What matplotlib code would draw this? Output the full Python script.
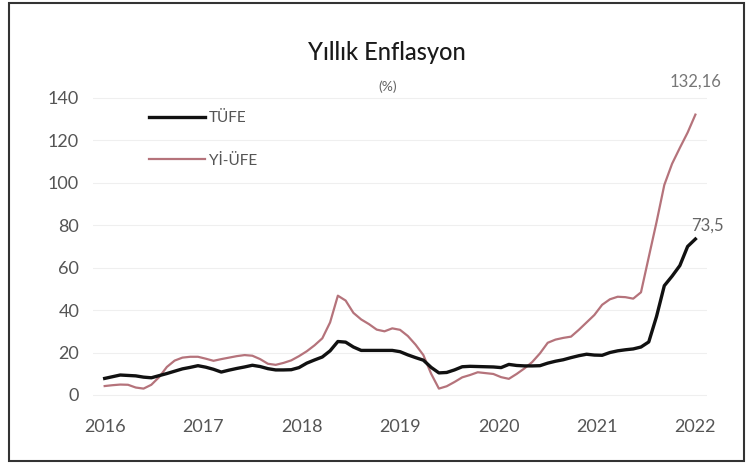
import numpy as np
import matplotlib
matplotlib.use("Agg")
import matplotlib.pyplot as plt
from matplotlib.patches import Rectangle

plt.rcParams['font.family'] = ['Lato', 'DejaVu Sans']

# aylık yıllık enflasyon, Ocak 2016 - Mayıs 2022
tufe = [7.8, 8.6, 9.4, 9.2, 9.0, 8.4, 8.1, 9.1, 10.1, 11.2, 12.3, 13.0,
        13.8, 13.1, 12.1, 10.8, 11.7, 12.5, 13.2, 14.0, 13.4, 12.4, 11.8, 11.8,
        11.9, 12.9, 15.0, 16.5, 17.9, 20.8, 25.2, 24.9, 22.6, 21.0, 21.0, 21.0,
        21.0, 21.0, 20.4, 18.9, 17.6, 16.4, 13.0, 10.4, 10.6, 11.8, 13.3, 13.5,
        13.4, 13.3, 13.2, 12.9, 14.4, 13.9, 13.7, 13.7, 13.8, 15.0, 15.9, 16.6,
        17.6, 18.5, 19.2, 18.8, 18.7, 20.0, 20.8, 21.3, 21.7, 22.6, 25.0, 37.0,
        51.5, 56.0, 61.0, 70.0, 73.5]
yiufe = [4.2, 4.6, 4.9, 4.8, 3.5, 3.0, 4.8, 8.4, 13.2, 16.2, 17.6, 18.0,
         18.0, 17.1, 16.1, 16.9, 17.6, 18.3, 18.8, 18.5, 16.9, 14.7, 14.2, 15.1,
         16.3, 18.3, 20.6, 23.4, 26.7, 34.2, 46.8, 44.5, 38.7, 35.6, 33.4, 30.8,
         30.0, 31.4, 30.7, 27.8, 23.7, 18.8, 10.0, 3.0, 4.1, 6.1, 8.3, 9.4,
         10.7, 10.3, 9.9, 8.4, 7.6, 9.9, 12.5, 15.5, 19.6, 24.6, 26.1, 26.9,
         27.5, 30.7, 34.2, 37.7, 42.5, 45.1, 46.3, 46.1, 45.4, 48.4, 65.0, 81.5,
         99.0, 109.0, 116.5, 123.7, 132.16]
years = ['2016', '2017', '2018', '2019', '2020', '2021', '2022']
yticks = [0, 20, 40, 60, 80, 100, 120, 140]

x = np.arange(len(tufe))

fig = plt.figure(figsize=(7.49, 4.65), dpi=100)
ax = fig.add_axes([0.1242, 0.1415, 0.8198, 0.6706])

ax.plot(x, yiufe, color='#b5737b', lw=1.6, label='Yİ-ÜFE', zorder=3)
ax.plot(x, tufe, color='#111111', lw=2.4, label='TÜFE', zorder=4)

ax.set_xlim(-1.5, 77.5)
ax.set_ylim(-2, 145)
ax.set_xticks(np.linspace(0, len(x) - 1, len(years)))
ax.set_xticklabels(years)
ax.set_yticks(yticks)
ax.tick_params(axis='both', length=0, labelsize=13, colors='#555555')
ax.tick_params(axis='y', pad=10)
ax.tick_params(axis='x', pad=14)
for s in ax.spines.values():
    s.set_visible(False)
ax.grid(axis='y', color='#efefef', lw=0.8)
ax.set_axisbelow(True)

# son değer etiketleri
ax.annotate(f"{yiufe[-1]:.2f}".replace('.', ','), (x[-1], yiufe[-1]),
            xytext=(0, 18), textcoords='offset points', ha='center',
            va='bottom', fontsize=12, color='#777777')
ax.annotate(f"{tufe[-1]:g}".replace('.', ','), (x[-1], tufe[-1]),
            xytext=(9, 4), textcoords='offset points', ha='center',
            va='bottom', fontsize=12, color='#666666')

h, l = ax.get_legend_handles_labels()
ax.legend(h[::-1], l[::-1], loc='upper left', bbox_to_anchor=(0.18, 0.79),
          bbox_transform=fig.transFigure, frameon=False, fontsize=11,
          handlelength=3.7, handletextpad=0.25, labelspacing=1.85,
          labelcolor='#555555')

fig.text(0.517, 0.888, 'Yıllık Enflasyon', ha='center', va='center',
         fontsize=17, color='#1a1a1a', fontweight='medium')
fig.text(0.517, 0.813, '(%)', ha='center', va='center',
         fontsize=10, color='#666666')

fig.patches.append(Rectangle((0.012, 0.009), 0.981, 0.984,
                             transform=fig.transFigure, fill=False,
                             edgecolor='#333333', lw=1.5))

fig.savefig('out.png', dpi=100)
